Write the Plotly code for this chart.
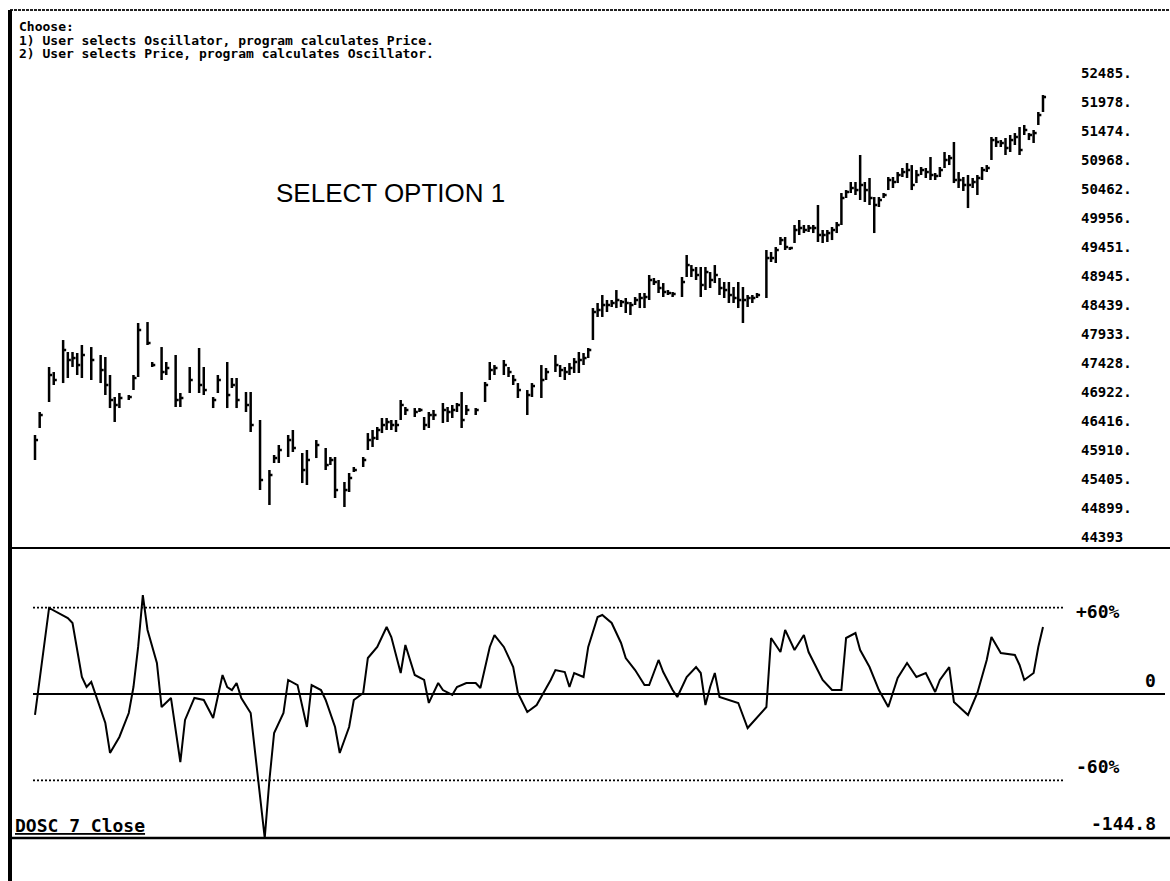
import plotly.graph_objects as go

# ---------------- price bars: trading day, high, low, close ----------------
days = [0, 1, 3, 4, 6, 7, 8, 9, 10, 12, 14, 15, 16, 17, 18, 20, 21, 22, 24, 25,
        27, 28, 30, 31, 33, 35, 36, 38, 39, 41, 42, 43, 45, 46, 48, 50, 51, 52, 54, 55,
        57, 58, 60, 62, 63, 64, 66, 67, 68, 70, 71, 72, 73, 74, 75, 76, 77, 78, 79, 81,
        82, 83, 84, 85, 87, 88, 89, 90, 91, 92, 94, 96, 97, 98, 100, 101, 102, 103, 105, 106,
        108, 109, 111, 112, 113, 114, 115, 116, 117, 118, 119, 120, 121, 122, 123, 124, 125, 126, 127, 128,
        129, 130, 131, 132, 133, 134, 135, 136, 138, 139, 140, 141, 142, 143, 144, 145, 146, 147, 148, 149,
        150, 151, 152, 153, 154, 156, 157, 158, 159, 160, 161, 162, 163, 164, 165, 166, 167, 168, 169, 170,
        171, 172, 173, 174, 175, 176, 177, 178, 179, 180, 181, 182, 183, 184, 185, 186, 187, 188, 189, 190,
        191, 192, 193, 194, 195, 196, 197, 198, 199, 200, 201, 202, 203, 204, 205, 206, 207, 208, 209, 210,
        211, 212, 213, 214, 215]

highs = [46172, 46573, 47358, 47270, 47828, 47619, 47619, 47602, 47741, 47706, 47567, 47532, 47218, 46834, 46904, 46869, 47218, 48125, 48142, 47445,
         47706, 47445, 47567, 46904, 47358, 47689, 47358, 46834, 47218, 47445, 47166, 47166, 46922, 46922, 46433, 45561, 45823, 45997, 46172, 46259,
         45858, 45910, 46084, 45945, 45788, 45788, 45352, 45509, 45614, 45788, 46206, 46259, 46311, 46468, 46468, 46433, 46433, 46782, 46660, 46642,
         46642, 46486, 46573, 46608, 46730, 46660, 46695, 46730, 46922, 46695, 46642, 47096, 47445, 47392, 47480, 47358, 47218, 47078, 46956, 47078,
         47392, 47340, 47567, 47392, 47358, 47427, 47514, 47619, 47602, 47689, 48386, 48474, 48613, 48526, 48526, 48700, 48526, 48561, 48491, 48578,
         48648, 48648, 48962, 48910, 48875, 48822, 48700, 48666, 48927, 49311, 49136, 49102, 49102, 49102, 49014, 49136, 48910, 48840, 48840, 48753,
         48840, 48753, 48613, 48613, 48648, 49398, 49363, 49450, 49625, 49625, 49450, 49834, 49921, 49834, 49834, 49834, 50183, 49747, 49747, 49799,
         49886, 50392, 50444, 50584, 50584, 51055, 50584, 50654, 50322, 50322, 50392, 50671, 50671, 50758, 50828, 50915, 50880, 50793, 50846, 50828,
         51020, 50741, 50846, 51107, 51055, 51282, 50758, 50671, 50706, 50654, 50706, 50846, 50880, 51369, 51369, 51316, 51351, 51404, 51438, 51543,
         51578, 51438, 51491, 51805, 52101]

lows = [45736, 46294, 46747, 47044, 47078, 47166, 47358, 47218, 47166, 47131, 47078, 46869, 46642, 46398, 46642, 46782, 46956, 47183, 47741, 47358,
        47131, 47218, 46660, 46660, 46904, 46904, 46869, 46642, 46904, 46642, 46991, 46642, 46573, 46224, 45212, 44951, 45683, 45683, 45788, 45875,
        45334, 45300, 45770, 45561, 45648, 45073, 44916, 45178, 45526, 45614, 45910, 45962, 46084, 46206, 46259, 46259, 46224, 46433, 46520, 46486,
        46573, 46259, 46294, 46433, 46381, 46398, 46468, 46573, 46294, 46520, 46520, 46747, 47131, 47218, 47218, 47183, 47044, 46817, 46520, 46834,
        46817, 47131, 47270, 47183, 47131, 47218, 47253, 47253, 47392, 47514, 47828, 48230, 48230, 48317, 48404, 48386, 48404, 48299, 48264, 48439,
        48386, 48386, 48526, 48788, 48648, 48578, 48613, 48578, 48578, 48927, 48927, 48875, 48578, 48700, 48735, 48822, 48613, 48561, 48474, 48474,
        48386, 48125, 48404, 48474, 48561, 48561, 49189, 49171, 49485, 49398, 49398, 49520, 49660, 49694, 49712, 49694, 49538, 49520, 49538, 49572,
        49694, 49834, 50305, 50392, 50357, 50270, 50235, 50183, 49694, 50148, 50305, 50444, 50479, 50566, 50671, 50654, 50444, 50566, 50706, 50654,
        50619, 50619, 50671, 50828, 50880, 50566, 50479, 50427, 50130, 50479, 50357, 50619, 50758, 50968, 51194, 51194, 51055, 51107, 51229, 51055,
        51404, 51316, 51264, 51578, 51805]

closes = [46084, 46520, 47218, 47131, 47654, 47480, 47514, 47392, 47567, 47480, 47305, 47044, 46782, 46695, 46817, 46834, 47166, 48003, 47776, 47392,
          47270, 47340, 46782, 46817, 47131, 47044, 46956, 46782, 47131, 46869, 47044, 46782, 46695, 46346, 45387, 45474, 45770, 45910, 46084, 45945,
          45561, 45736, 45997, 45648, 45736, 45212, 45212, 45422, 45561, 45736, 46084, 46119, 46259, 46346, 46398, 46346, 46346, 46695, 46608, 46573,
          46608, 46346, 46520, 46520, 46608, 46573, 46608, 46695, 46433, 46608, 46608, 47044, 47305, 47340, 47392, 47270, 47131, 46956, 46869, 47026,
          47131, 47270, 47392, 47305, 47270, 47340, 47445, 47480, 47514, 47654, 48317, 48352, 48439, 48439, 48474, 48526, 48491, 48474, 48439, 48526,
          48561, 48578, 48875, 48840, 48735, 48666, 48648, 48631, 48840, 49136, 49049, 48962, 48788, 49014, 48875, 48962, 48735, 48700, 48613, 48561,
          48526, 48526, 48561, 48561, 48613, 49258, 49258, 49398, 49572, 49450, 49433, 49747, 49782, 49747, 49782, 49782, 49660, 49660, 49694, 49747,
          49834, 50305, 50410, 50479, 50444, 50532, 50444, 50305, 50183, 50270, 50357, 50619, 50584, 50706, 50758, 50793, 50532, 50706, 50793, 50758,
          50706, 50689, 50793, 50968, 51002, 50619, 50619, 50532, 50532, 50584, 50654, 50793, 50828, 51316, 51282, 51264, 51177, 51316, 51369, 51142,
          51491, 51404, 51438, 51752, 52066]

# ---------------- DOSC 7 Close oscillator ----------------
osc_days = [0, 3, 7, 8, 10, 11, 12, 13, 15, 16, 18, 20, 21, 22, 23, 24, 26, 27, 29, 31,
            32, 34, 36, 38, 40, 41, 42, 43, 44, 46, 47, 49, 50, 51, 53, 54, 56, 57, 58, 59,
            61, 62, 64, 65, 67, 68, 70, 71, 73, 75, 76, 78, 79, 81, 83, 84, 86, 87, 89, 90,
            92, 94, 95, 97, 98, 100, 102, 103, 105, 107, 110, 111, 113, 114, 115, 117, 118, 120, 121, 123,
            125, 126, 128, 130, 131, 133, 134, 136, 137, 139, 141, 142, 143, 144, 145, 146, 148, 150, 152, 154,
            156, 157, 159, 160, 162, 164, 165, 168, 170, 172, 173, 175, 176, 178, 180, 182, 184, 186, 188, 190,
            192, 193, 195, 196, 199, 201, 203, 204, 206, 209, 210, 211, 213, 214, 215]

osc_vals = [-21.1, 86.5, 76.4, 71.4, 17.1, 7.0, 12.1, -1.0, -29.2, -59.3, -43.2, -19.1, 7.0, 47.3, 99.5, 64.4, 31.2, -13.1, -4.0, -68.4,
            -26.1, -4.0, -6.0, -24.1, 19.1, 7.0, 4.0, 11.1, -4.0, -19.1, -59.3, -144.8, -86.5, -39.2, -19.1, 14.1, 9.0, -13.1, -33.2, 9.0,
            4.0, -6.0, -33.2, -59.3, -33.2, -6.0, 1.0, 36.2, 47.3, 67.4, 57.3, 21.1, 49.3, 19.1, 14.1, -9.0, 11.1, 4.0, -1.0, 7.0,
            11.1, 11.1, 6.0, 47.3, 59.3, 47.3, 27.1, 1.0, -18.1, -11.1, 14.1, 24.1, 22.1, 7.0, 21.1, 17.1, 47.3, 77.4, 79.4, 71.4,
            51.3, 36.2, 24.1, 9.0, 9.0, 34.2, 22.1, 4.0, -3.0, 17.1, 27.1, 21.1, -11.1, 7.0, 21.1, -3.0, -6.0, -9.0, -34.2, -23.1,
            -13.1, 56.3, 42.2, 64.4, 44.2, 59.3, 42.2, 14.1, 4.0, 4.0, 56.3, 61.3, 44.2, 27.1, 4.0, -13.1, 16.1, 31.2, 17.1, 21.1,
            2.0, 14.1, 27.1, -8.0, -21.1, 1.0, 34.2, 57.3, 41.2, 39.2, 29.2, 14.1, 21.1, 47.3, 67.4]

OSC_MIN = -144.8          # lowest oscillator reading (bottom of the lower pane)
BAND_PCT = 0.60           # +/-60% reference band, as a share of the extreme

price_ticks = [52485, 51978, 51474, 50968, 50462, 49956, 49451, 48945, 48439,
               47933, 47428, 46922, 46416, 45910, 45405, 44899, 44393]
price_tick_text = [f"{v}." for v in price_ticks[:-1]] + [str(price_ticks[-1])]

header_lines = ["Choose:",
                "1) User selects Oscillator, program calculates Price.",
                "2) User selects Price, program calculates Oscillator."]

# ---------------- geometry helpers ----------------
FIG_W, FIG_H = 1170, 881
MARGIN_R = 90
PLOT_W = FIG_W - MARGIN_R


def px(x):
    """horizontal pixel -> paper fraction"""
    return x / PLOT_W


def py(y):
    """vertical pixel (from top) -> paper fraction"""
    return 1 - y / FIG_H


# ---------------- build the bar segments ----------------
bar_x, bar_y = [], []
for d, h, l in zip(days, highs, lows):
    bar_x += [d, d, None]
    bar_y += [l, h, None]

tick_x, tick_y = [], []
for d, c in zip(days, closes):
    tick_x += [d, d + 0.65, None]
    tick_y += [c, c, None]

fig = go.Figure()
fig.add_trace(go.Scatter(x=bar_x, y=bar_y, mode="lines",
                         line=dict(color="black", width=2.5),
                         hoverinfo="skip", showlegend=False, xaxis="x", yaxis="y"))
fig.add_trace(go.Scatter(x=tick_x, y=tick_y, mode="lines",
                         line=dict(color="black", width=2.5),
                         hoverinfo="skip", showlegend=False, xaxis="x", yaxis="y"))
fig.add_trace(go.Scatter(x=osc_days, y=osc_vals, mode="lines",
                         line=dict(color="black", width=2),
                         hoverinfo="skip", showlegend=False, xaxis="x", yaxis="y2"))

band = BAND_PCT * abs(OSC_MIN)
mono = "DejaVu Sans Mono"

shapes = [
    # frame and pane separators
    dict(type="line", xref="paper", yref="paper", x0=px(10), x1=px(1170), y0=py(10), y1=py(10),
         line=dict(color="#222", width=2, dash="3px,1px")),
    dict(type="line", xref="paper", yref="paper", x0=px(10), x1=px(10), y0=py(10), y1=py(881),
         line=dict(color="black", width=4)),
    dict(type="line", xref="paper", yref="paper", x0=px(10), x1=px(1170), y0=py(548), y1=py(548),
         line=dict(color="black", width=2)),
    dict(type="line", xref="paper", yref="paper", x0=px(10), x1=px(1170), y0=py(838), y1=py(838),
         line=dict(color="black", width=2.5)),
    # oscillator reference lines
    dict(type="line", xref="paper", yref="y2", x0=px(33), x1=px(1065), y0=band, y1=band,
         line=dict(color="black", width=1.6, dash="2px,2px")),
    dict(type="line", xref="paper", yref="y2", x0=px(33), x1=px(1065), y0=-band, y1=-band,
         line=dict(color="black", width=1.6, dash="2px,2px")),
    dict(type="line", xref="paper", yref="y2", x0=px(33), x1=px(1165), y0=0, y1=0,
         line=dict(color="black", width=2.2)),
]

annotations = []
for i, line in enumerate(header_lines):
    annotations.append(dict(text=line, xref="paper", yref="paper", x=px(17), y=py(26 + 14 * i),
                            xanchor="left", yanchor="middle", showarrow=False,
                            font=dict(family=mono, size=13, color="black", weight=700)))

annotations.append(dict(text="SELECT OPTION 1", xref="paper", yref="paper", x=px(390), y=py(193),
                        xanchor="center", yanchor="middle", showarrow=False,
                        font=dict(family="Liberation Sans", size=26, color="black")))

osc_font = dict(family=mono, size=18, color="black", weight=700)
annotations += [
    dict(text="+60%", xref="paper", yref="y2", x=px(1074), y=band, yshift=-4,
         xanchor="left", yanchor="middle", showarrow=False, font=osc_font),
    dict(text="0", xref="paper", yref="y2", x=px(1158), y=0, yshift=1,
         xanchor="right", yanchor="bottom", showarrow=False, font=osc_font),
    dict(text="-60%", xref="paper", yref="y2", x=px(1074), y=-band, yshift=1,
         xanchor="left", yanchor="bottom", showarrow=False, font=osc_font),
    dict(text=f"{OSC_MIN}", xref="paper", yref="y2", x=px(1158), y=OSC_MIN, yshift=2,
         xanchor="right", yanchor="bottom", showarrow=False, font=osc_font),
    dict(text="<u>DOSC 7 Close</u>", xref="paper", yref="y2", x=px(13), y=OSC_MIN, yshift=0,
         xanchor="left", yanchor="bottom", showarrow=False, font=osc_font),
]

# pixel scale: day 0 sits at x=35, day 215 at x=1043
day_px = (1043 - 35) / 215
x_lo = -35 / day_px
x_hi = x_lo + PLOT_W / day_px

fig.update_layout(
    width=FIG_W, height=FIG_H,
    margin=dict(l=0, r=MARGIN_R, t=0, b=0),
    paper_bgcolor="white", plot_bgcolor="white",
    showlegend=False,
    xaxis=dict(range=[x_lo, x_hi], domain=[0, 1], visible=False, anchor="y"),
    yaxis=dict(domain=[py(548), py(12)], range=[44201, 53549], side="right",
               tickvals=price_ticks, ticktext=price_tick_text, ticks="",
               showgrid=False, zeroline=False, showline=False,
               tickfont=dict(family=mono, size=14, color="black", weight=700)),
    yaxis2=dict(domain=[py(838), py(548)], range=[OSC_MIN, 146.8], visible=False,
                anchor="x"),
    shapes=shapes,
    annotations=annotations,
)

fig.write_html("out.html")
